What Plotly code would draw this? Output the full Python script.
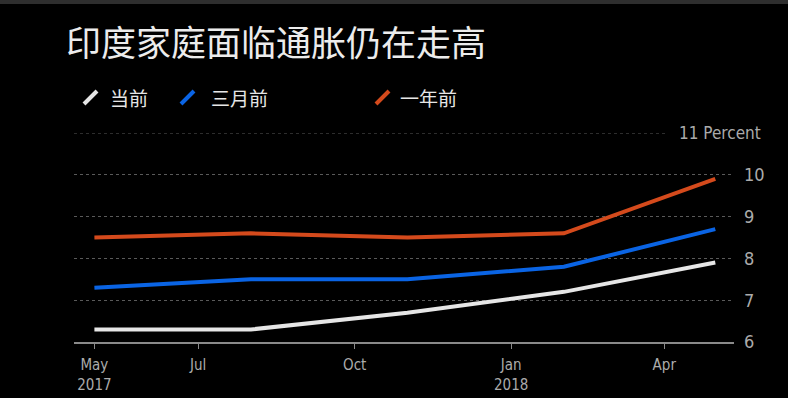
import plotly.graph_objects as go

# ---- data ----
dates = ["2017-05-01", "2017-08-01", "2017-11-01", "2018-02-01", "2018-05-01"]
current = [6.3, 6.3, 6.7, 7.2, 7.9]
three_months_ago = [7.3, 7.5, 7.5, 7.8, 8.7]
one_year_ago = [8.5, 8.6, 8.5, 8.6, 9.9]

series_names = ["当前", "三月前", "一年前"]
series_colors = ["#e6e6e6", "#0a64e4", "#d44a1c"]

x_tickvals = ["2017-05-01", "2017-07-01", "2017-10-01", "2018-01-01", "2018-04-01"]
x_ticktext = ["May<br>2017", "Jul", "Oct", "Jan<br>2018", "Apr"]
y_tickvals = [6, 7, 8, 9, 10]
y_ticktext = ["6", "7", "8", "9", "10"]
top_label = "11 Percent"
title_text = "印度家庭面临通胀仍在走高"

W, H = 788, 398
L, R, T, B = 74, 54, 133, 56
PW, PH = W - L - R, H - T - B


def px(xp):
    return (xp - L) / PW


def py(yp):
    return (H - B - yp) / PH


TICK_FONT = "Liberation Sans Narrow, DejaVu Sans Condensed, Arial Narrow, sans-serif"
CJK_FONT = "Noto Sans CJK SC, sans-serif"
GREY = "#ababab"

fig = go.Figure()
for name, vals, col in zip(series_names, [current, three_months_ago, one_year_ago], series_colors):
    fig.add_trace(go.Scatter(x=dates, y=vals, mode="lines", name=name,
                             line=dict(color=col, width=4), showlegend=False))

shapes = []
annotations = []

# top thin strip (screenshot artefact)
shapes.append(dict(type="rect", xref="paper", yref="paper", x0=px(0), x1=px(W), y0=py(0), y1=py(4),
                   fillcolor="#2e2e2e", line=dict(width=0), layer="below"))
# 11 gridline (shortened to leave room for label)
shapes.append(dict(type="line", xref="paper", yref="y", x0=0, x1=px(666), y0=11, y1=11,
                   line=dict(color="#5a5a5a", width=1, dash="dot")))

# custom legend
legend_pos = [(83, 108), (180, 209), (375, 398)]
for (sx, tx), name, col in zip(legend_pos, series_names, series_colors):
    shapes.append(dict(type="line", xref="paper", yref="paper", x0=px(sx + 1), y0=py(104),
                       x1=px(sx + 14), y1=py(91), line=dict(color=col, width=4)))
    annotations.append(dict(text=name, xref="paper", yref="paper", x=px(tx), y=py(97),
                            xanchor="left", yanchor="middle", showarrow=False,
                            font=dict(family=CJK_FONT, size=19, color="#e6e6e6")))

annotations.append(dict(text=top_label, xref="paper", yref="y", x=px(677), y=11,
                        xanchor="left", yanchor="middle", showarrow=False,
                        font=dict(family=TICK_FONT, size=17, color=GREY)))

fig.update_layout(
    width=W, height=H,
    margin=dict(l=L, r=R, t=T, b=B, autoexpand=False),
    paper_bgcolor="#000000", plot_bgcolor="#000000",
    title=dict(text=title_text, xref="container", yref="container",
               x=66 / W, y=1 - 44 / H, xanchor="left", yanchor="middle",
               font=dict(family=CJK_FONT, size=35, color="#ececec")),
    shapes=shapes, annotations=annotations,
    showlegend=False,
)
fig.update_xaxes(
    type="date", range=["2017-04-19", "2018-05-12"],
    tickvals=x_tickvals, ticktext=x_ticktext,
    showgrid=False, showline=True, linecolor="#8a8a8a", linewidth=2,
    ticks="outside", ticklen=5, tickcolor="#8a8a8a", tickwidth=1,
    ticklabelstandoff=3, automargin=False,
    tickfont=dict(family=TICK_FONT, size=15, color=GREY),
    zeroline=False,
)
fig.update_yaxes(
    range=[6, 11], side="right",
    tickvals=y_tickvals, ticktext=y_ticktext,
    showgrid=True, gridcolor="#5a5a5a", gridwidth=1, griddash="dot",
    showline=False, zeroline=False, ticks="", ticklabelstandoff=9, automargin=False,
    tickfont=dict(family=TICK_FONT, size=18, color=GREY),
)

fig.write_html("out.html", config={"displayModeBar": False},
               post_script="document.body.style.margin='0';document.body.style.overflow='hidden';")
